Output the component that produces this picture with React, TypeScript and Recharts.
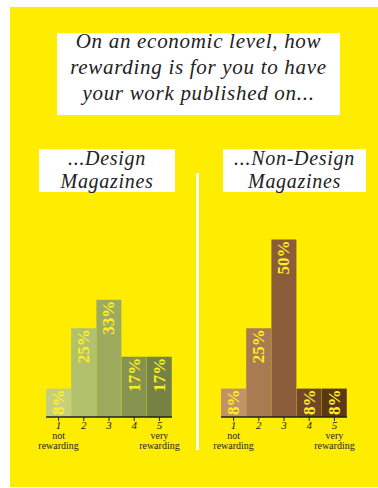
import { BarChart, Bar, XAxis, YAxis, Cell, LabelList } from 'recharts';

const ratings = ['1', '2', '3', '4', '5'];
const ratingNotes = [['not', 'rewarding'], [], [], [], ['very', 'rewarding']];
const designShares = [8, 25, 33, 17, 17];
const nonDesignShares = [8, 25, 50, 8, 8];
const designColors = ['#c6d07c', '#b2c16c', '#9dab5e', '#86934f', '#758244'];
const nonDesignColors = ['#c29366', '#a97b52', '#8a5c3a', '#704827', '#5c3713'];

const serif = 'Liberation Serif, Times New Roman, serif';
const yellow = '#ffed00';

function ShareLabel(props: any) {
  const { x, y, width, value } = props;
  const cx = x + width / 2;
  const top = y + 1;
  return (
    <text
      x={cx}
      y={top}
      transform={`rotate(-90, ${cx}, ${top})`}
      textAnchor="end"
      dominantBaseline="central"
      fontFamily={serif}
      fontWeight="bold"
      fontSize={17}
      fill="#ffee22"
    >
      {value}%
    </text>
  );
}

function RatingTick(props: any) {
  const { x, y, payload } = props;
  const notes = ratingNotes[payload.index] || [];
  return (
    <g>
      <text x={x} y={y} dy="0.71em" textAnchor="middle" fontFamily={serif} fontStyle="italic" fontSize={11} fill="#222">
        {payload.value}
      </text>
      {notes.map((n, i) => (
        <text key={n} x={x} y={y + 18 + i * 10} textAnchor="middle" fontFamily={serif} fontSize={10} fill="#222">
          {n}
        </text>
      ))}
    </g>
  );
}

function RatingChart({ shares, colors, left }: { shares: number[]; colors: string[]; left: number }) {
  const rows = ratings.map((rating, i) => ({ rating, share: shares[i] }));
  return (
    <div style={{ position: 'absolute', left, top: 200 }}>
      <BarChart width={160} height={258} data={rows} margin={{ top: 4, right: 18, bottom: 0, left: 16 }} barCategoryGap={0}>
        <YAxis hide domain={[0, 60]} />
        <XAxis
          dataKey="rating"
          height={41}
          interval={0}
          axisLine={{ stroke: '#222', strokeWidth: 1.5 }}
          tickLine={{ stroke: '#222' }}
          tickSize={4}
          tickMargin={0}
          tick={<RatingTick />}
        />
        <Bar dataKey="share" isAnimationActive={false}>
          {rows.map((r, i) => (
            <Cell key={r.rating} fill={colors[i]} />
          ))}
          <LabelList dataKey="share" content={<ShareLabel />} />
        </Bar>
      </BarChart>
    </div>
  );
}

const boxText = {
  position: 'absolute' as const,
  fontFamily: serif,
  fontStyle: 'italic',
  color: '#222',
  textAlign: 'center' as const,
  whiteSpace: 'nowrap' as const,
  letterSpacing: 0.7,
};

export default function App() {
  return (
    <div style={{ position: 'absolute', left: 0, top: 0, width: 378, height: 488, background: '#fff', overflow: 'hidden' }}>
      <div style={{ position: 'absolute', left: 10, top: 7, width: 368, height: 480, background: yellow }} />
      <div style={{ position: 'absolute', left: 57, top: 33, width: 283, height: 82, background: '#fff' }} />
      <div style={{ ...boxText, left: 57, top: 28, width: 283, fontSize: 21, lineHeight: '26px' }}>
        On an economic level, how
        <br />
        rewarding is for you to have
        <br />
        your work published on...
      </div>

      <div style={{ position: 'absolute', left: 39, top: 149, width: 136, height: 43, background: '#fff' }} />
      <div style={{ ...boxText, left: 39, top: 147, width: 136, fontSize: 20, lineHeight: '23px' }}>
        ...Design
        <br />
        Magazines
      </div>
      <div style={{ position: 'absolute', left: 223, top: 149, width: 143, height: 43, background: '#fff' }} />
      <div style={{ ...boxText, left: 223, top: 147, width: 143, fontSize: 20, lineHeight: '23px' }}>
        ...Non-Design
        <br />
        Magazines
      </div>

      <div style={{ position: 'absolute', left: 196, top: 173, width: 3, height: 277, background: '#fff' }} />

      <RatingChart shares={designShares} colors={designColors} left={30} />
      <RatingChart shares={nonDesignShares} colors={nonDesignColors} left={205} />
    </div>
  );
}
